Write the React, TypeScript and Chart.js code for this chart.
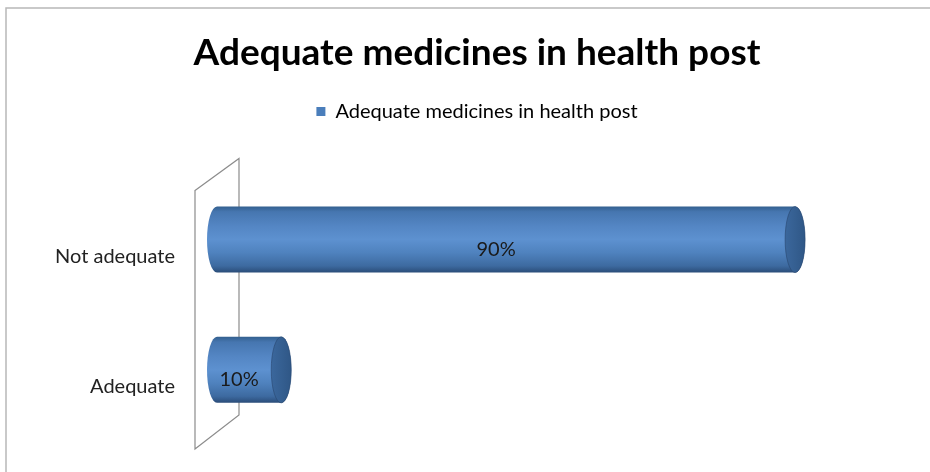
import React, { useEffect, useRef } from "react";
import { Chart, registerables } from "chart.js";

Chart.register(...registerables);

const categories = ["Not adequate", "Adequate"];
const values = [90, 10];
const valueLabels = ["90%", "10%"];
const seriesName = "Adequate medicines in health post";
const titleText = "Adequate medicines in health post";
const axisMax = 111;

const FONT = "Lato, 'Open Sans', sans-serif";

const framePlugin = {
  id: "frame",
  beforeDraw(chart: any) {
    const ctx = chart.ctx;
    ctx.save();
    ctx.fillStyle = "#ffffff";
    ctx.fillRect(0, 0, chart.width, chart.height);
    ctx.strokeStyle = "#b8b8b8";
    ctx.lineWidth = 1.5;
    ctx.beginPath();
    ctx.moveTo(6, chart.height);
    ctx.lineTo(6, 8);
    ctx.lineTo(chart.width, 8);
    ctx.stroke();
    ctx.restore();
  },
};

const wallPlugin = {
  id: "wall",
  beforeDatasetsDraw(chart: any) {
    const ctx = chart.ctx;
    const xs = chart.scales.x;
    const area = chart.chartArea;
    const x0 = xs.getPixelForValue(0);
    const dx = 22;
    const front = x0 - dx;
    const back = x0 + dx;
    const topBack = area.top - 16;
    const topFront = area.top + 16;
    const botBack = area.bottom - 20;
    const botFront = area.bottom + 14;
    ctx.save();
    ctx.strokeStyle = "#8c8c8c";
    ctx.lineWidth = 1.2;
    ctx.beginPath();
    ctx.moveTo(front, topFront);
    ctx.lineTo(back, topBack);
    ctx.lineTo(back, botBack);
    ctx.lineTo(front, botFront);
    ctx.closePath();
    ctx.stroke();
    ctx.restore();
  },
};

const cylinderPlugin = {
  id: "cylinders",
  afterDatasetsDraw(chart: any) {
    const ctx = chart.ctx;
    const meta = chart.getDatasetMeta(0);
    meta.data.forEach((bar: any, i: number) => {
      const p = bar.getProps(["x", "y", "base", "height"], true);
      const rx = 10;
      const ry = p.height / 2;
      const top = p.y - ry;
      const bottom = p.y + ry;
      const left = p.base;
      const right = p.x;
      ctx.save();
      const g = ctx.createLinearGradient(0, top, 0, bottom);
      g.addColorStop(0, "#33608f");
      g.addColorStop(0.08, "#4676b0");
      g.addColorStop(0.3, "#5486c4");
      g.addColorStop(0.5, "#5d91d0");
      g.addColorStop(0.7, "#4f82be");
      g.addColorStop(0.9, "#3d6aa0");
      g.addColorStop(1, "#2a4c78");
      ctx.beginPath();
      ctx.moveTo(left, top);
      ctx.lineTo(right, top);
      ctx.ellipse(right, p.y, rx, ry, 0, -Math.PI / 2, Math.PI / 2);
      ctx.lineTo(left, bottom);
      ctx.ellipse(left, p.y, rx, ry, 0, Math.PI / 2, (3 * Math.PI) / 2);
      ctx.closePath();
      ctx.fillStyle = g;
      ctx.fill();
      const cg = ctx.createLinearGradient(right - rx, 0, right + rx, 0);
      cg.addColorStop(0, "#3b679c");
      cg.addColorStop(1, "#2f5786");
      ctx.beginPath();
      ctx.ellipse(right, p.y, rx, ry, 0, 0, Math.PI * 2);
      ctx.fillStyle = cg;
      ctx.fill();
      ctx.strokeStyle = "rgba(40,70,110,0.6)";
      ctx.lineWidth = 1;
      ctx.stroke();
      ctx.fillStyle = "#1a1a1a";
      ctx.font = "20px " + FONT;
      ctx.textAlign = "center";
      ctx.textBaseline = "middle";
      ctx.fillText(valueLabels[i], (left + right) / 2 - 10, p.y + 10);
      ctx.restore();
    });
  },
};

export default function App() {
  const ref = useRef<HTMLCanvasElement | null>(null);
  useEffect(() => {
    document.body.style.margin = "0";
    const chart = new Chart(ref.current!, {
      type: "bar",
      data: {
        labels: categories,
        datasets: [
          {
            label: seriesName,
            data: values,
            backgroundColor: "rgba(0,0,0,0)",
            borderWidth: 0,
            barThickness: 66,
          } as any,
        ],
      },
      options: {
        indexAxis: "y",
        animation: false,
        responsive: false,
        layout: { padding: { left: 24, right: 0, top: 0, bottom: 37 } },
        plugins: {
          title: {
            display: true,
            text: titleText,
            color: "#000000",
            font: { family: FONT, size: 37, weight: "bold" },
            padding: { top: 31, bottom: 16 },
          },
          legend: {
            display: true,
            labels: {
              color: "#222222",
              boxWidth: 9,
              boxHeight: 9,
              font: { family: FONT, size: 20 },
              generateLabels: () => [
                {
                  text: seriesName,
                  fillStyle: "#4a7ebb",
                  strokeStyle: "#4a7ebb",
                  lineWidth: 0,
                  datasetIndex: 0,
                } as any,
              ],
            },
          },
          tooltip: { enabled: false },
        },
        scales: {
          x: {
            position: "top",
            min: 0,
            max: axisMax,
            ticks: { display: false },
            grid: { display: false, drawTicks: false },
            border: { display: false },
            afterFit: (s: any) => {
              s.height = 43;
              s.paddingLeft = 0;
              s.paddingRight = 0;
            },
          },
          y: {
            ticks: {
              color: "#222222",
              font: { family: FONT, size: 20 },
              padding: 42,
              labelOffset: 17,
            },
            grid: { display: false, drawTicks: false },
            border: { display: false },
            afterFit: (s: any) => {
              s.width = 193;
              s.paddingTop = 0;
              s.paddingBottom = 0;
            },
          },
        },
      },
      plugins: [framePlugin, wallPlugin, cylinderPlugin],
    });
    return () => chart.destroy();
  }, []);
  return <canvas ref={ref} width={930} height={472} style={{ display: "block" }} />;
}
